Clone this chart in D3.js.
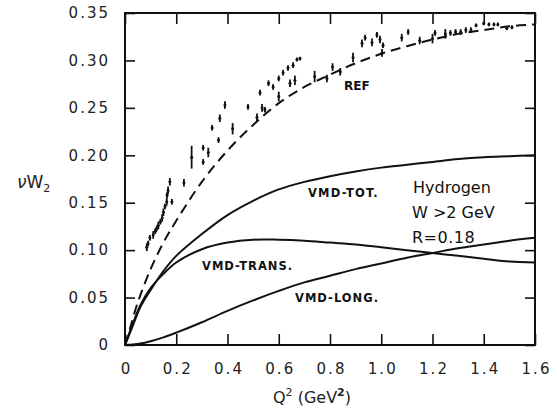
<!DOCTYPE html>
<html><head><meta charset="utf-8">
<script src="https://cdn.jsdelivr.net/npm/d3@7"></script>
<style>body{margin:0;background:#fff;} svg{display:block;}</style>
</head><body>
<svg id="c" width="557" height="409"></svg>
<script>
const xTickValues = [0,0.2,0.4,0.6,0.8,1.0,1.2,1.4,1.6];
const xTickLabels = ["0","0.2","0.4","0.6","0.8","1.0","1.2","1.4","1.6"];
const yTickValues = [0,0.05,0.10,0.15,0.20,0.25,0.30,0.35];
const yTickLabels = ["0","0.05","0.10","0.15","0.20","0.25","0.30","0.35"];

const refQ2   = [0,0.02,0.05,0.1,0.15,0.2,0.3,0.4,0.5,0.6,0.7,0.8,0.9,1.0,1.1,1.2,1.3,1.4,1.5,1.6];
const refV    = [0,0.018,0.045,0.08,0.108,0.131,0.172,0.205,0.232,0.255,0.272,0.285,0.297,0.307,0.315,0.322,0.328,0.332,0.336,0.338];
const curveQ2 = [0,0.03,0.06,0.1,0.15,0.2,0.3,0.4,0.5,0.6,0.7,0.8,0.9,1.0,1.1,1.2,1.3,1.4,1.5,1.6];
const totV    = [0,0.02,0.04,0.058,0.078,0.094,0.117,0.137,0.152,0.164,0.172,0.178,0.183,0.187,0.190,0.193,0.196,0.198,0.199,0.200];
const transV  = [0,0.022,0.042,0.06,0.075,0.087,0.101,0.108,0.111,0.111,0.110,0.108,0.106,0.103,0.100,0.097,0.094,0.091,0.088,0.087];
const longV   = [0,0.0005,0.0015,0.004,0.008,0.013,0.024,0.036,0.047,0.057,0.066,0.073,0.080,0.086,0.092,0.097,0.102,0.106,0.110,0.113];

const dataQ2 = [0.085,0.09,0.097,0.11,0.118,0.124,0.13,0.138,0.145,0.15,0.156,0.163,0.164,0.168,0.175,0.183,
  0.23,0.26,0.305,0.305,0.325,0.34,0.365,0.37,0.39,0.42,0.48,0.515,0.527,0.535,0.546,0.56,0.578,0.6,0.6,0.617,0.636,0.644,0.656,0.663,0.671,0.683,0.74,0.788,0.81,0.84,
  0.89,0.925,0.937,0.964,0.983,0.995,1.003,1.007,1.08,1.105,1.15,1.2,1.21,1.25,1.27,1.29,1.31,1.33,1.35,1.37,1.4,1.42,1.44,1.455,1.49,1.51];
const dataV = [0.103,0.107,0.113,0.116,0.12,0.123,0.126,0.13,0.134,0.14,0.146,0.151,0.158,0.163,0.172,0.151,
  0.171,0.198,0.208,0.193,0.203,0.229,0.216,0.239,0.253,0.228,0.251,0.24,0.266,0.25,0.248,0.276,0.272,0.281,0.262,0.287,0.292,0.276,0.295,0.279,0.301,0.302,0.283,0.281,0.293,0.288,
  0.303,0.318,0.324,0.319,0.327,0.322,0.308,0.316,0.324,0.33,0.321,0.323,0.329,0.328,0.329,0.33,0.33,0.332,0.332,0.337,0.339,0.338,0.338,0.338,0.334,0.335];
const dataErr = [0.004,0.003,0.003,0.004,0.003,0.003,0.004,0.003,0.004,0.004,0.003,0.004,0.003,0.004,0.004,0.003,
  0.004,0.012,0.003,0.003,0.005,0.003,0.003,0.004,0.004,0.006,0.003,0.004,0.003,0.004,0.003,0.003,0.003,0.003,0.005,0.003,0.003,0.004,0.003,0.005,0.002,0.002,0.006,0.004,0.004,0.004,
  0.005,0.004,0.003,0.004,0.003,0.004,0.004,0.003,0.004,0.003,0.004,0.005,0.003,0.005,0.003,0.003,0.003,0.003,0.003,0.002,0.002,0.002,0.002,0.002,0.002,0.002];

const svg = d3.select("#c");
const L = 125, R = 535, T = 13, B = 345;
const x = d3.scaleLinear().domain([0,1.6]).range([L,R]);
const y = d3.scaleLinear().domain([0,0.35]).range([B,T]);
const font = "'DejaVu Sans', sans-serif";

svg.append("rect").attr("x",L).attr("y",T).attr("width",R-L).attr("height",B-T)
  .attr("fill","none").attr("stroke","#111").attr("stroke-width",2);

const xb = svg.append("g").attr("transform",`translate(0,${B})`)
  .call(d3.axisBottom(x).tickValues(xTickValues).tickSize(-11).tickFormat((d,i)=>xTickLabels[i]).tickPadding(18));
const xt = svg.append("g").attr("transform",`translate(0,${T})`)
  .call(d3.axisTop(x).tickValues(xTickValues).tickSize(-11).tickFormat(""));
const yl = svg.append("g").attr("transform",`translate(${L},0)`)
  .call(d3.axisLeft(y).tickValues(yTickValues).tickSize(-10).tickFormat((d,i)=>yTickLabels[i]).tickPadding(15));
const yr = svg.append("g").attr("transform",`translate(${R},0)`)
  .call(d3.axisRight(y).tickValues(yTickValues).tickSize(-10).tickFormat(""));
[xb,xt,yl,yr].forEach(g=>{
  g.select(".domain").remove();
  g.selectAll(".tick line").attr("stroke","#111").attr("stroke-width",1.6);
  g.selectAll(".tick text").attr("font-family",font).attr("font-size",15).attr("fill","#222")
    .attr("letter-spacing","2px");
});
xb.selectAll(".tick text").attr("dx","1px");

const line = d3.line().x(d=>x(d[0])).y(d=>y(d[1])).curve(d3.curveCatmullRom);
svg.append("path").datum(refQ2.map((q,i)=>[q,refV[i]])).attr("d",line)
  .attr("fill","none").attr("stroke","#111").attr("stroke-width",2).attr("stroke-dasharray","10,6");
[totV,transV,longV].forEach(arr=>{
  svg.append("path").datum(curveQ2.map((q,i)=>[q,arr[i]])).attr("d",line)
    .attr("fill","none").attr("stroke","#111").attr("stroke-width",2);
});

const pts = dataQ2.map((q,i)=>({q, v:dataV[i], e:dataErr[i]}));
const pg = svg.append("g");
pg.selectAll("line").data(pts).join("line")
  .attr("x1",d=>x(d.q)).attr("x2",d=>x(d.q))
  .attr("y1",d=>y(d.v+d.e)).attr("y2",d=>y(d.v-d.e))
  .attr("stroke","#111").attr("stroke-width",1.8);
pg.selectAll("circle").data(pts).join("circle")
  .attr("cx",d=>x(d.q)).attr("cy",d=>y(d.v)).attr("r",1.5).attr("fill","#111");

const lab = (t,xx,yy,size,weight,anchor)=>svg.append("text").attr("x",xx).attr("y",yy)
  .attr("font-family",font).attr("font-size",size).attr("font-weight",weight||"normal")
  .attr("text-anchor",anchor||"start").attr("fill","#111").text(t);
lab("REF",344,90,12,"bold");
lab("VMD-TOT.",308,197,11.5,"bold").attr("letter-spacing","1.2px");
lab("VMD-TRANS.",202,270,11.5,"bold").attr("letter-spacing","1px");
lab("VMD-LONG.",295,302,11.5,"bold").attr("letter-spacing","1px");
lab("Hydrogen",413,193,16,"normal");
lab("W >2 GeV",412,218,16,"normal");
lab("R=0.18",412,243,16,"normal").attr("letter-spacing","0.5px");

const xtit = svg.append("text").attr("x",273).attr("y",403).attr("font-family",font).attr("font-size",16).attr("fill","#222");
xtit.append("tspan").text("Q");
xtit.append("tspan").attr("font-size",11).attr("dy",-7).text("2");
xtit.append("tspan").attr("dy",7).text(" (GeV");
xtit.append("tspan").attr("font-size",11).attr("font-weight","bold").attr("dy",-7).text("2");
xtit.append("tspan").attr("dy",7).text(")");

const ytit = svg.append("text").attr("x",17).attr("y",188).attr("font-family",font).attr("font-size",17).attr("fill","#222");
ytit.append("tspan").attr("font-style","italic").text("ν");
ytit.append("tspan").text("W");
ytit.append("tspan").attr("font-size",11).attr("dy",4).text("2");
</script>
</body></html>
